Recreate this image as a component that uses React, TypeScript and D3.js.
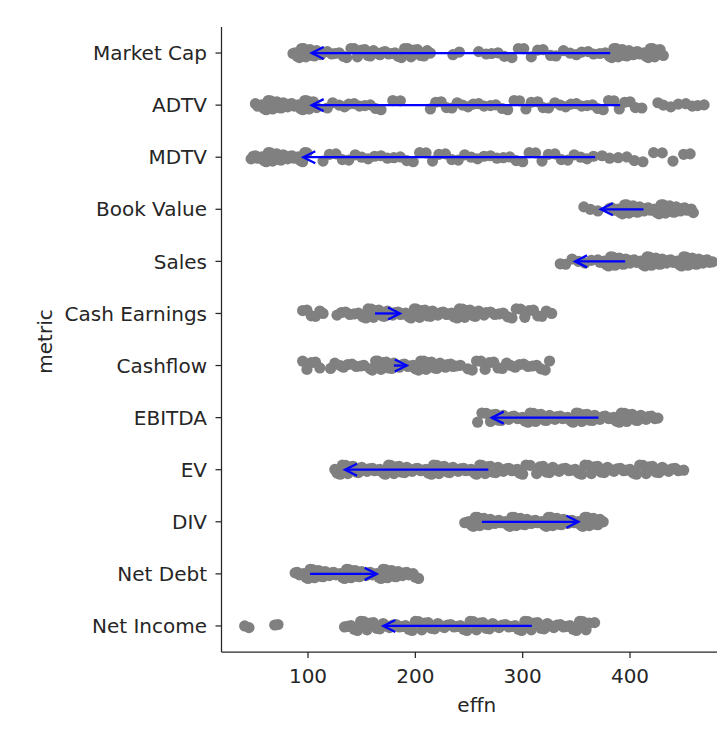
import React from "react";
import * as d3 from "d3";

const categories = ["Market Cap","ADTV","MDTV","Book Value","Sales","Cash Earnings","Cashflow","EBITDA","EV","DIV","Net Debt","Net Income"];

const marketCap = [86,88,90,92,94,96,98,100,102,104,106,108,110,112,114,118,122,125,129,133,136,140,143,146,150,153,156,158,161,164,167,170,172,175,178,181,184,187,190,193,196,199,202,205,208,211,214,235,241,259,266,271,277,283,290,296,301,308,314,319,326,331,338,344,350,355,361,366,372,377,381,383,385,387,389,391,393,395,397,399,401,403,405,407,409,411,413,415,417,419,421,423,425,428,431];
const adtv = [51,53,55,57,59,61,63,65,67,69,71,73,75,77,79,81,83,85,87,89,91,93,95,97,99,101,103,105,108,118,123,129,134,138,143,148,153,158,163,168,179,186,214,219,224,229,234,239,244,249,254,259,264,270,275,281,286,292,297,303,308,314,319,324,330,335,340,345,350,355,360,365,370,375,380,385,390,395,400,405,411,426,431,438,445,452,458,463,469];
const mdtv = [47,49,51,53,55,57,59,61,63,65,67,69,71,73,75,77,79,81,83,85,87,89,91,93,95,97,99,114,120,126,132,138,144,150,156,162,168,174,180,186,192,198,204,210,216,222,228,234,240,246,252,258,264,270,276,282,288,294,300,306,312,318,324,330,336,342,348,354,360,366,374,381,389,397,404,412,422,430,440,450,456];
const bookValue = [357,363,370,381,383,385,387,389,391,393,395,397,399,401,403,405,407,409,411,413,415,417,419,421,423,425,427,429,431,433,435,437,439,441,443,445,447,449,451,453,455,457,459];
const sales = [335,340,346,352,358,364,370,372,374,376,378,380,382,384,386,388,390,392,394,396,398,400,402,404,406,408,410,412,414,416,418,420,422,424,426,428,430,432,434,436,438,440,442,444,446,448,450,452,454,456,458,460,462,464,466,468,470,472,474,477];
const cashEarnings = [95,99,103,107,111,114,127,131,135,139,143,147,151,154,156,159,161,164,166,169,171,174,176,179,181,184,186,189,191,194,196,199,201,204,206,209,211,214,216,219,221,224,226,229,231,234,236,239,241,244,246,249,251,254,256,259,261,264,266,270,274,278,282,286,290,294,298,302,306,310,314,318,322,327];
const cashflow = [95,99,103,107,111,121,125,130,133,137,141,145,149,152,158,160,163,165,168,170,173,175,178,180,183,185,188,190,193,195,198,200,203,205,208,210,213,215,218,220,223,225,228,230,233,235,238,242,249,253,257,261,265,269,273,277,281,285,289,293,297,301,305,309,313,317,321,325];
const ebitda = [258,262,266,270,272,275,277,280,282,285,287,290,292,295,297,300,302,305,307,310,312,315,317,320,322,325,327,330,332,335,337,340,342,345,347,350,352,355,357,360,362,365,367,370,372,375,377,380,382,385,387,390,392,395,397,400,402,405,407,410,412,415,417,420,423,426];
const ev = [125,127,130,132,135,137,140,142,145,147,150,152,155,157,160,162,165,167,170,172,175,177,180,182,185,187,190,192,195,197,200,202,205,207,210,212,215,217,220,222,225,227,230,232,235,237,240,242,245,247,250,252,255,257,260,262,265,267,270,272,275,277,280,282,285,287,290,292,295,297,300,303,307,313,316,319,322,325,328,331,334,337,340,343,346,349,352,355,358,361,364,367,370,373,376,379,382,385,388,391,394,397,400,403,406,409,412,415,418,421,424,427,430,433,436,439,442,445,450];
const div = [246,248,250,252,254,256,258,260,262,264,266,268,270,272,274,276,278,280,282,284,286,288,290,292,294,296,298,300,302,304,306,308,310,312,314,316,318,320,322,324,326,328,330,332,334,336,338,340,342,344,346,348,350,352,354,356,358,360,362,364,366,368,370,372,375];
const netDebt = [88,90,92,94,96,98,100,102,104,106,108,110,112,114,116,118,120,122,124,126,128,130,132,134,136,138,140,142,144,146,148,150,152,154,156,158,160,162,164,166,168,170,172,174,176,178,180,182,184,186,188,190,192,194,196,198,200,203];
const netIncome = [41,45,69,72,134,137,140,143,146,149,152,155,158,161,164,167,170,173,176,179,182,185,188,191,194,197,200,203,206,209,212,215,218,221,224,227,230,233,236,239,242,245,248,251,254,257,260,263,266,269,272,275,278,281,284,287,290,293,296,299,302,305,308,311,314,317,320,323,326,329,332,335,338,341,344,347,350,353,356,359,362,367];

const seriesValues = [marketCap, adtv, mdtv, bookValue, sales, cashEarnings, cashflow, ebitda, ev, div, netDebt, netIncome];

const arrowStart = [381.5, 390.8, 367.5, 412.5, 395.4, 162.4, 180, 370.6, 268, 262, 101.9, 308.5];
const arrowEnd = [103.4, 103.4, 95.6, 372.8, 348.8, 185.7, 192, 271.2, 134.5, 351.9, 164, 170.2];

const xTicks = [100, 200, 300, 400];

// fixed vertical jitter pattern (fractions of the jitter half-width)
const jitterPattern = [0.1, -0.9, 0.6, -0.3, 0.95, -0.7, 0.35, -0.05, 0.8, -0.5, 0.2, -0.95, 0.5, -0.2, 0.7, -0.6, 0.0];

const W = 717, H = 741;
const left = 221.5, right = 732, top = 27, bottom = 652;
const FONT = "DejaVu Sans, sans-serif";
const TEXT = "#262626";
const FS = 20;

export default function App() {
  const x = d3.scaleLinear().domain([19.4, 495]).range([left, right]);
  const y = d3.scalePoint<string>().domain(categories).range([top, bottom]).padding(0.5);
  const jit = (i: number, c: number) => jitterPattern[(i * 7 + c * 3) % jitterPattern.length] * 4.8;
  return (
    <svg width={W} height={H} style={{ position: "absolute", left: 0, top: 0, background: "#fff" }} fontFamily={FONT}>
      <rect x={0} y={0} width={W} height={H} fill="#fff" />
      {seriesValues.map((vals, c) => (
        <g key={c}>
          {vals.map((v, i) => (
            <circle key={i} cx={x(v)} cy={(y(categories[c]) as number) + jit(i, c)} r={5.6} fill="#808080" />
          ))}
        </g>
      ))}
      {categories.map((cat, c) => {
        const yy = y(cat) as number;
        const x0 = x(arrowStart[c]);
        const x1 = x(arrowEnd[c]);
        const dir = x1 > x0 ? 1 : -1;
        const hl = 12, hw = 6;
        return (
          <g key={cat} stroke="#0000ff" strokeWidth={2.3} fill="none" strokeLinecap="butt">
            <line x1={x0} y1={yy} x2={x1} y2={yy} />
            <path d={`M${x1 - dir * hl},${yy - hw} L${x1},${yy} L${x1 - dir * hl},${yy + hw}`} strokeLinejoin="miter" />
          </g>
        );
      })}
      <line x1={left} y1={top} x2={left} y2={bottom} stroke={TEXT} strokeWidth={1.25} />
      <line x1={left} y1={bottom} x2={right} y2={bottom} stroke={TEXT} strokeWidth={1.25} />
      {categories.map((cat) => {
        const yy = y(cat) as number;
        return (
          <g key={cat}>
            <line x1={left - 6} x2={left} y1={yy} y2={yy} stroke={TEXT} strokeWidth={1.25} />
            <text x={left - 14.5} y={yy} dy="0.36em" textAnchor="end" fontSize={FS} fill={TEXT}>{cat}</text>
          </g>
        );
      })}
      {xTicks.map((t) => (
        <g key={t}>
          <line x1={x(t)} x2={x(t)} y1={bottom} y2={bottom + 6} stroke={TEXT} strokeWidth={1.25} />
          <text x={x(t)} y={682.5} textAnchor="middle" fontSize={FS} fill={TEXT}>{t}</text>
        </g>
      ))}
      <text x={(left + right) / 2} y={712} textAnchor="middle" fontSize={FS} fill={TEXT}>effn</text>
      <text transform={`translate(51.5,${(top + bottom) / 2 + 2}) rotate(-90)`} textAnchor="middle" fontSize={FS} fill={TEXT}>metric</text>
    </svg>
  );
}
